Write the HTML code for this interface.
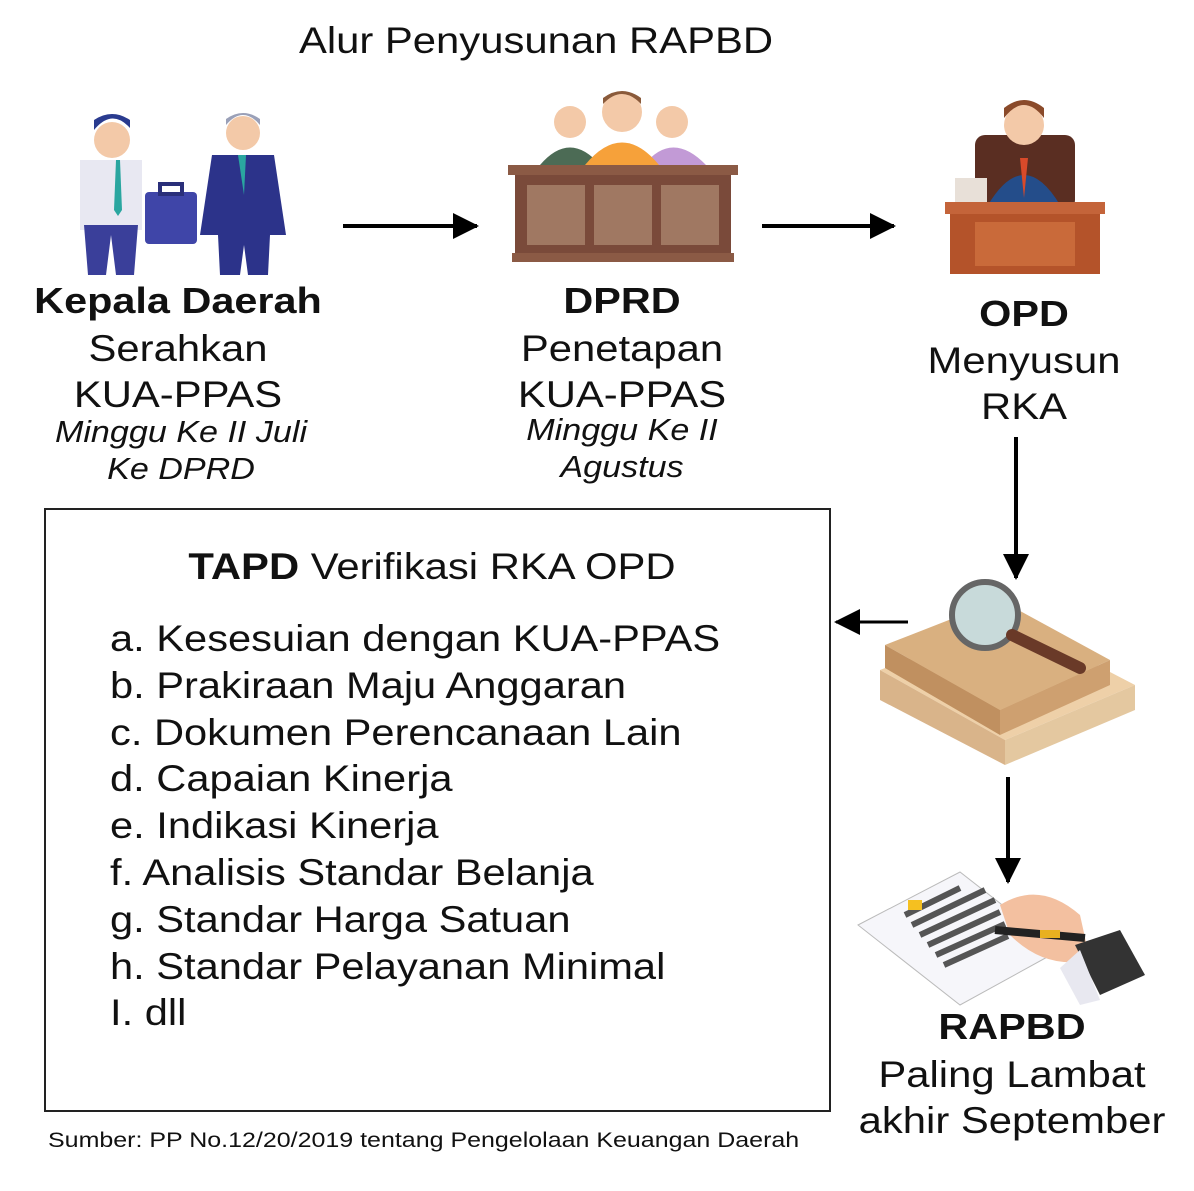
<!DOCTYPE html>
<html><head><meta charset="utf-8"><style>
body{margin:0;width:1194px;height:1191px;background:#fff;position:relative;overflow:hidden;font-family:"Liberation Sans",sans-serif;color:#111}
.t{position:absolute;white-space:nowrap;transform:translateX(-50%) scaleX(1.13);text-align:center;line-height:1}
.b{transform:translateX(-50%) scaleX(1.15)}
.i{transform:translateX(-50%) scaleX(1.10)}
.l{position:absolute;white-space:nowrap;line-height:1;transform-origin:0 0;transform:scaleX(1.125)}
svg{position:absolute;left:0;top:0}
</style></head><body>
<svg width="1194" height="1191">
<defs>
<marker id="b" markerWidth="26" markerHeight="26" refX="24" refY="13" orient="auto" markerUnits="userSpaceOnUse"><path d="M0,0 L26,13 L0,26z" fill="#000"/></marker></defs>
<line x1="343" y1="226" x2="477" y2="226" stroke="#000" stroke-width="4" marker-end="url(#b)"/>
<line x1="762" y1="226" x2="894" y2="226" stroke="#000" stroke-width="4" marker-end="url(#b)"/>
<line x1="1016" y1="437" x2="1016" y2="578" stroke="#000" stroke-width="4" marker-end="url(#b)"/>
<line x1="908" y1="622" x2="836" y2="622" stroke="#000" stroke-width="3" marker-end="url(#b)"/>
<line x1="1008" y1="777" x2="1008" y2="882" stroke="#000" stroke-width="4" marker-end="url(#b)"/>
<rect x="45" y="509" width="785" height="602" fill="none" stroke="#222" stroke-width="2"/>
<g>
<circle cx="112" cy="140" r="18" fill="#f3c9a8"/><path d="M94,130 q18,-22 36,-2 l0,-8 q-18,-12 -36,0z" fill="#2a3b8f"/>
<path d="M80,160 h62 v70 h-62z" fill="#e8e8f2"/><path d="M84,225 h54 l-4,50 h-18 l-5,-40 l-5,40 h-18z" fill="#3a3f9a"/>
<path d="M116,160 l4,0 l2,50 l-4,6 l-4,-6z" fill="#2aa6a0"/>
<circle cx="243" cy="133" r="17" fill="#f3c9a8"/><path d="M226,125 q17,-20 34,0 v-6 q-17,-12 -34,0z" fill="#9aa0b8"/>
<path d="M212,155 h62 l12,80 h-86z" fill="#2c338a"/><path d="M218,235 h52 l-2,40 h-20 l-4,-30 l-4,30 h-20z" fill="#2c338a"/>
<path d="M238,155 l8,0 l-2,40z" fill="#2aa6a0"/>
<rect x="145" y="192" width="52" height="52" rx="4" fill="#3f45a8"/><rect x="160" y="184" width="22" height="10" fill="none" stroke="#2a2f7a" stroke-width="4"/>
</g>
<g>
<circle cx="570" cy="122" r="16" fill="#f3c9a8"/><path d="M540,165 q30,-35 60,0z" fill="#4c6b55"/>
<circle cx="672" cy="122" r="16" fill="#f3c9a8"/><path d="M644,165 q28,-35 62,0z" fill="#c29ad6"/>
<circle cx="622" cy="112" r="20" fill="#f3c9a8"/><path d="M603,104 q19,-20 38,0 v-6 q-19,-14 -38,0z" fill="#8a5a3a"/>
<path d="M585,165 q37,-45 74,0z" fill="#f6a13a"/>
<rect x="508" y="165" width="230" height="10" fill="#8b5a45"/>
<rect x="515" y="175" width="216" height="78" fill="#7a4a3a"/>
<rect x="527" y="185" width="58" height="60" fill="#a07862"/><rect x="594" y="185" width="58" height="60" fill="#a07862"/><rect x="661" y="185" width="58" height="60" fill="#a07862"/>
<rect x="512" y="253" width="222" height="9" fill="#8b5a45"/>
</g>
<g>
<rect x="975" y="135" width="100" height="75" rx="10" fill="#5a2e22"/>
<circle cx="1024" cy="125" r="20" fill="#f3c9a8"/><path d="M1004,118 q20,-26 40,0 v-10 q-20,-16 -40,0z" fill="#8a4a2a"/>
<path d="M988,205 q36,-60 72,0z" fill="#244d8a"/><path d="M1020,158 h8 l-4,40z" fill="#d84a2a"/>
<rect x="955" y="178" width="32" height="24" fill="#e8e0d8"/>
<rect x="945" y="202" width="160" height="12" fill="#c4643a"/>
<rect x="950" y="214" width="150" height="60" fill="#b4532a"/><rect x="975" y="222" width="100" height="44" fill="#c96a3a"/>
</g>
<g>
<path d="M880,670 L1010,620 L1135,685 L1005,740z" fill="#eed0a8"/>
<path d="M880,670 L880,700 L1005,765 L1005,740z" fill="#d9b48a"/>
<path d="M1005,740 L1135,685 L1135,710 L1005,765z" fill="#e4c8a0"/>
<path d="M885,645 L1000,600 L1110,660 L1000,710z" fill="#d9b080"/>
<path d="M885,645 L885,668 L1000,735 L1000,710z" fill="#c09060"/>
<path d="M1000,710 L1110,660 L1110,685 L1000,735z" fill="#cea070"/>
<circle cx="985" cy="615" r="33" fill="#c8dada" stroke="#666" stroke-width="6"/>
<path d="M1012,635 L1080,668" stroke="#6a3a28" stroke-width="12" stroke-linecap="round"/>
</g>
<g>
<path d="M858,925 L960,872 L1060,950 L960,1005z" fill="#f6f6fa" stroke="#bbb"/>
<path d="M905,915 L960,888 M912,925 L985,890 M920,935 L995,900 M928,945 L1000,912 M936,955 L1005,924 M944,965 L1008,936" stroke="#555" stroke-width="6"/>
<rect x="908" y="900" width="14" height="10" fill="#f5c020"/>
<path d="M1000,905 q40,-25 80,10 l10,45 q-45,10 -80,-25z" fill="#f3c0a0"/>
<path d="M995,930 L1085,938" stroke="#222" stroke-width="8"/><path d="M1040,934 h20" stroke="#e8b020" stroke-width="8"/>
<path d="M1075,945 L1120,930 L1145,975 L1100,995z" fill="#333"/>
<path d="M1060,968 L1080,950 L1100,1000 L1080,1005z" fill="#e8e8f0"/>
</g>
</svg>
<div class="t" style="left:536px;top:22px;font-size:37px">Alur Penyusunan RAPBD</div>
<div class="t b" style="left:178px;top:283px;font-size:36px;font-weight:bold">Kepala Daerah</div>
<div class="t" style="left:178px;top:330px;font-size:37px">Serahkan</div>
<div class="t" style="left:178px;top:376px;font-size:37px">KUA-PPAS</div>
<div class="t i" style="left:181px;top:416px;font-size:31px;font-style:italic">Minggu Ke II Juli</div>
<div class="t i" style="left:181px;top:453px;font-size:31px;font-style:italic">Ke DPRD</div>
<div class="t b" style="left:622px;top:283px;font-size:36px;font-weight:bold">DPRD</div>
<div class="t" style="left:622px;top:330px;font-size:37px">Penetapan</div>
<div class="t" style="left:622px;top:376px;font-size:37px">KUA-PPAS</div>
<div class="t i" style="left:622px;top:414px;font-size:31px;font-style:italic">Minggu Ke II</div>
<div class="t i" style="left:622px;top:451px;font-size:31px;font-style:italic">Agustus</div>
<div class="t b" style="left:1024px;top:296px;font-size:36px;font-weight:bold">OPD</div>
<div class="t" style="left:1024px;top:342px;font-size:37px">Menyusun</div>
<div class="t" style="left:1024px;top:388px;font-size:37px">RKA</div>
<div class="t" style="left:432px;top:548px;font-size:37px"><b>TAPD</b> Verifikasi RKA OPD</div>
<div class="l" style="left:110px;top:616px;font-size:37px;line-height:46.8px">a. Kesesuian dengan KUA-PPAS<br>b. Prakiraan Maju Anggaran<br>c. Dokumen Perencanaan Lain<br>d. Capaian Kinerja<br>e. Indikasi Kinerja<br>f. Analisis Standar Belanja<br>g. Standar Harga Satuan<br>h. Standar Pelayanan Minimal<br>I. dll</div>
<div class="t b" style="left:1012px;top:1009px;font-size:36px;font-weight:bold">RAPBD</div>
<div class="t" style="left:1012px;top:1056px;font-size:37px">Paling Lambat</div>
<div class="t" style="left:1012px;top:1102px;font-size:37px">akhir September</div>
<div class="l" style="left:48px;top:1130px;font-size:21px;transform:scaleX(1.19)">Sumber: PP No.12/20/2019 tentang Pengelolaan Keuangan Daerah</div>
</body></html>
